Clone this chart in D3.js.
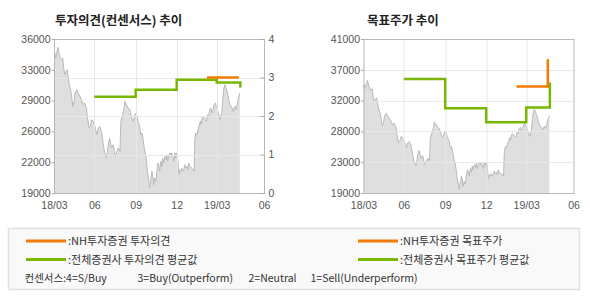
<!DOCTYPE html>
<html>
<head>
<meta charset="utf-8">
<script src="https://cdn.jsdelivr.net/npm/d3@7"></script>
<style>
  body { margin: 0; background: #fff; }
  text { font-family: "Liberation Sans", Arial, sans-serif; }
  .kr { font-family: "Noto Sans CJK KR", sans-serif; }
</style>
</head>
<body>
<div id="chart"></div>
<script>
// stock price (daily close)
var priceDates = [
  "2018-03-01","2018-03-03","2018-03-05","2018-03-08","2018-03-10","2018-03-13","2018-03-16","2018-03-18",
  "2018-03-21","2018-03-23","2018-03-26","2018-03-28","2018-03-31","2018-04-02","2018-04-05","2018-04-08",
  "2018-04-10","2018-04-13","2018-04-16","2018-04-18","2018-04-22","2018-04-25","2018-04-29","2018-05-03",
  "2018-05-06","2018-05-10","2018-05-14","2018-05-16","2018-05-20","2018-05-23","2018-05-26","2018-05-29",
  "2018-06-01","2018-06-04","2018-06-07","2018-06-10","2018-06-13","2018-06-17","2018-06-21","2018-06-24",
  "2018-06-28","2018-07-02","2018-07-05","2018-07-09","2018-07-13","2018-07-17","2018-07-20","2018-07-24",
  "2018-07-28","2018-07-30","2018-08-03","2018-08-06","2018-08-08","2018-08-15","2018-08-19","2018-08-23",
  "2018-08-26","2018-09-01","2018-09-04","2018-09-06","2018-09-10","2018-09-12","2018-09-15","2018-09-17",
  "2018-09-20","2018-09-23","2018-09-25","2018-09-27","2018-09-30","2018-10-02","2018-10-05","2018-10-07",
  "2018-10-09","2018-10-11","2018-10-13","2018-10-16","2018-10-18","2018-10-20","2018-10-22","2018-10-24",
  "2018-10-27","2018-10-29","2018-10-31","2018-11-02","2018-11-05","2018-11-07","2018-11-09","2018-11-11",
  "2018-11-13","2018-11-16","2018-11-18","2018-11-20","2018-11-22","2018-11-25","2018-11-27","2018-11-29",
  "2018-12-01","2018-12-03","2018-12-06","2018-12-08","2018-12-10","2018-12-12","2018-12-15","2018-12-17",
  "2018-12-19","2018-12-21","2018-12-24","2018-12-26","2018-12-28","2018-12-31","2019-01-03","2019-01-07",
  "2019-01-09","2019-01-11","2019-01-13","2019-01-16","2019-01-18","2019-01-20","2019-01-23","2019-01-25",
  "2019-01-27","2019-01-29","2019-02-01","2019-02-03","2019-02-06","2019-02-08","2019-02-11","2019-02-13",
  "2019-02-16","2019-02-18","2019-02-21","2019-02-23","2019-02-26","2019-02-28","2019-03-02","2019-03-04",
  "2019-03-06","2019-03-08","2019-03-10","2019-03-11","2019-03-13","2019-03-15","2019-03-17","2019-03-19",
  "2019-03-21","2019-03-23","2019-03-25","2019-03-27","2019-03-29","2019-03-31","2019-04-02","2019-04-04",
  "2019-04-06","2019-04-08","2019-04-10","2019-04-12","2019-04-14","2019-04-15"
];
var prices = [
  34090,34450,33900,34640,35080,34270,33830,33720,
  33900,32800,32060,32250,32610,31880,30960,30400,
  29680,28570,29120,30040,30400,30040,29680,29300,
  28750,28940,28380,27470,26180,26360,27090,26920,
  26620,25990,25440,26180,26360,25810,24330,23420,
  22860,24330,25070,23970,24330,23050,23420,23970,
  23600,26920,27640,28380,29120,28380,28200,27280,
  26920,27830,27470,26920,26360,25440,25620,25070,
  23970,23230,22500,21400,20290,19550,20660,21400,
  20840,19920,20660,20290,21400,22310,22120,21400,
  22500,21950,22860,22310,23050,22680,23230,22500,
  23050,23420,23050,23420,23050,22500,23420,22860,
  23420,23050,21020,21570,21400,21760,21400,21570,
  22120,21760,21950,21570,22310,21950,21760,21570,
  21400,25070,25620,25440,25990,26360,26920,26540,
  27280,27470,27280,27090,26920,27640,27470,28200,
  28380,27830,28200,28750,28940,28570,28380,27830,
  27470,27090,27640,27830,29490,30590,30960,30590,
  30230,29680,29120,28750,28570,28380,28020,28380,
  28570,28200,28750,29490,29790,30040
];

// NH 투자의견 / 목표주가 (orange)
var nhOpinionDates = ["2019-02-07", "2019-04-13"];
var nhOpinion = [3, 3];
var nhTargetDates = ["2019-02-07", "2019-04-12"];
var nhTarget = [34200, 38100];

// 전체증권사 평균값 (green)
var avgDates = ["2018-06-01", "2018-09-01", "2018-12-01", "2019-03-01", "2019-04-16"];
var avgOpinion = [2.5, 2.68, 2.94, 2.87, 2.74];
var avgTarget = [35300, 31100, 29100, 31200, 34800];

// axes
var xTickDates = ["2018-03-01", "2018-06-01", "2018-09-01", "2018-12-01", "2019-03-01", "2019-06-01"];
var xTickLabels = ["18/03", "06", "09", "12", "19/03", "06"];
var opinionTicks = [0, 1, 2, 3, 4];
var leftPriceLabels = ["19000", "22000", "26000", "29000", "33000", "36000"];
var rightPriceLabels = ["19000", "23000", "28000", "32000", "37000", "41000"];

var parseDate = d3.timeParse("%Y-%m-%d");

var priceData = priceDates.map(function(d, i) {
    return { date: parseDate(d), value: prices[i] };
});

function toPoints(dates, values) {
    return dates.map(function(d, i) { return { date: parseDate(d), value: values[i] }; });
}

var svgWidth = 590;
var svgHeight = 300;

var plotW = 210;
var plotH = 154;
var plotTop = 39;

var orange = "#f47b00";
var green = "#78b800";

var svg = d3.select("#chart")
    .append("svg")
    .attr("width", svgWidth)
    .attr("height", svgHeight);

// x scale: quarters are not evenly spaced on the original, so polylinear
var xScale = d3.scaleTime()
    .domain(xTickDates.map(parseDate))
    .range([0, 40.3, 81.7, 122.7, 162.7, plotW]);

function drawPanel(left, titleX, title, priceMax, priceLabels, showOpinion) {
    var g = svg.append("g")
        .attr("transform", `translate(${left}, ${plotTop})`);

    var yPrice = d3.scaleLinear()
        .domain([19000, priceMax])
        .range([plotH, 0]);

    var yOpinion = d3.scaleLinear()
        .domain([0, 4])
        .range([plotH, 0]);

    // price tick values are evenly spread, labels rounded on the original
    var priceTicks = priceLabels.map(function(d, i) {
        return 19000 + i * (priceMax - 19000) / (priceLabels.length - 1);
    });

    svg.append("text")
        .attr("class", "kr")
        .attr("x", titleX)
        .attr("y", 25)
        .attr("font-size", "12.5px")
        .attr("font-weight", "bold")
        .attr("fill", "#222")
        .text(title);

    // grey price area
    var area = d3.area()
        .x(d => xScale(d.date))
        .y0(plotH)
        .y1(d => yPrice(d.value));

    var line = d3.line()
        .x(d => xScale(d.date))
        .y(d => yPrice(d.value));

    g.append("path")
        .datum(priceData)
        .attr("d", area)
        .attr("fill", "#dfdfdf");

    g.append("path")
        .datum(priceData)
        .attr("d", line)
        .attr("fill", "none")
        .attr("stroke", "#b9b9b9")
        .attr("stroke-width", 1);

    // grid lines (drawn over the area like the original)
    var hGrid = showOpinion ? opinionTicks.slice(1, -1).map(d => yOpinion(d))
                            : priceTicks.slice(1, -1).map(d => yPrice(d));

    g.selectAll(".vgrid")
        .data(xTickDates.slice(1, -1))
        .enter()
        .append("line")
        .attr("x1", d => Math.round(xScale(parseDate(d))) + 0.5)
        .attr("x2", d => Math.round(xScale(parseDate(d))) + 0.5)
        .attr("y1", 0)
        .attr("y2", plotH)
        .attr("stroke", "#e8e8e8");

    g.selectAll(".hgrid")
        .data(hGrid)
        .enter()
        .append("line")
        .attr("x1", 0)
        .attr("x2", plotW)
        .attr("y1", d => Math.round(d) + 0.5)
        .attr("y2", d => Math.round(d) + 0.5)
        .attr("stroke", "#e8e8e8");

    // frame
    g.append("rect")
        .attr("x", 0.5)
        .attr("y", 0.5)
        .attr("width", plotW)
        .attr("height", plotH)
        .attr("fill", "none")
        .attr("stroke", "#b8b8b8");

    // axes
    var leftAxis = d3.axisLeft(yPrice)
        .tickValues(priceTicks)
        .tickSize(3)
        .tickPadding(1)
        .tickFormat((d, i) => priceLabels[i]);

    var bottomAxis = d3.axisBottom(xScale)
        .tickValues(xTickDates.map(parseDate))
        .tickSize(0)
        .tickPadding(9)
        .tickFormat((d, i) => xTickLabels[i]);

    var ga = g.append("g").attr("transform", "translate(0.5, 0)").call(leftAxis);
    var gb = g.append("g").attr("transform", `translate(0, ${plotH})`).call(bottomAxis);
    var axes = [ga, gb];

    if (showOpinion) {
        var rightAxis = d3.axisRight(yOpinion)
            .tickValues(opinionTicks)
            .tickSize(-4)
            .tickPadding(4)
            .tickFormat(d3.format("d"));
        axes.push(g.append("g").attr("transform", `translate(${plotW + 0.5}, 0)`).call(rightAxis));
    }

    axes.forEach(function(a) {
        a.select(".domain").remove();
        a.selectAll("line").attr("stroke", "#aaa");
        a.selectAll("text")
            .attr("fill", "#555")
            .attr("font-size", "10.5px")
            .attr("font-family", "'Liberation Sans', Arial, sans-serif");
    });

    // step lines: consensus (green) then NH (orange)
    var yStep = showOpinion ? yOpinion : yPrice;
    var step = d3.line()
        .curve(d3.curveStepAfter)
        .x(d => xScale(d.date))
        .y(d => yStep(d.value));

    g.append("path")
        .datum(toPoints(avgDates, showOpinion ? avgOpinion : avgTarget))
        .attr("d", step)
        .attr("fill", "none")
        .attr("stroke", green)
        .attr("stroke-width", 2.5);

    g.append("path")
        .datum(showOpinion ? toPoints(nhOpinionDates, nhOpinion) : toPoints(nhTargetDates, nhTarget))
        .attr("d", step)
        .attr("fill", "none")
        .attr("stroke", orange)
        .attr("stroke-width", 2.5);
}

drawPanel(54, 55, "투자의견(컨센서스) 추이", 36000, leftPriceLabels, true);
drawPanel(363.5, 367, "목표주가 추이", 41000, rightPriceLabels, false);

// legend box
var legend = svg.append("g");

legend.append("rect")
    .attr("x", 8.5)
    .attr("y", 228.5)
    .attr("width", 571)
    .attr("height", 61)
    .attr("fill", "#f9f9f9")
    .attr("stroke", "#e0e0e0")
    .attr("stroke-width", 1.5);

var legendItems = [
    { x: 26, y: 241, color: orange, label: ":NH투자증권 투자의견" },
    { x: 358, y: 241, color: orange, label: ":NH투자증권 목표주가" },
    { x: 26, y: 259.5, color: green, label: ":전체증권사 투자의견 평균값" },
    { x: 358, y: 259.5, color: green, label: ":전체증권사 목표주가 평균값" }
];

legend.selectAll(".mark")
    .data(legendItems)
    .enter()
    .append("line")
    .attr("x1", d => d.x)
    .attr("x2", d => d.x + 40)
    .attr("y1", d => d.y)
    .attr("y2", d => d.y)
    .attr("stroke", d => d.color)
    .attr("stroke-width", 3);

legend.selectAll(".label")
    .data(legendItems)
    .enter()
    .append("text")
    .attr("class", "kr")
    .attr("x", d => d.x + 42)
    .attr("y", d => d.y + 4)
    .attr("font-size", "11px")
    .attr("fill", "#333")
    .text(d => d.label);

var consensusNotes = [
    { x: 24.5, text: "컨센서스:4=S/Buy" },
    { x: 137.5, text: "3=Buy(Outperform)" },
    { x: 248.5, text: "2=Neutral" },
    { x: 310.5, text: "1=Sell(Underperform)" }
];

legend.selectAll(".note")
    .data(consensusNotes)
    .enter()
    .append("text")
    .attr("class", "kr")
    .attr("x", d => d.x)
    .attr("y", 281.5)
    .attr("font-size", "10.5px")
    .attr("fill", "#333")
    .text(d => d.text);
</script>
</body>
</html>
